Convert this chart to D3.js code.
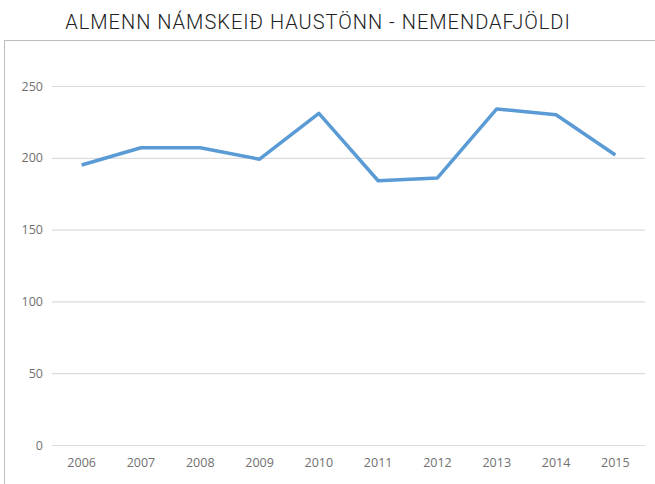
<!DOCTYPE html>
<html>
<head>
<meta charset="utf-8">
<script src="https://cdn.jsdelivr.net/npm/d3@7"></script>
<style>
  body { margin: 0; background: #fff; }
  svg { display: block; }
</style>
</head>
<body>
<div id="chart"></div>
<script>
const title = "ALMENN NÁMSKEIÐ HAUSTÖNN - NEMENDAFJÖLDI";
const years = ["2006", "2007", "2008", "2009", "2010", "2011", "2012", "2013", "2014", "2015"];
const students = [195, 207, 207, 199, 231, 184, 186, 234, 230, 202];
const yTicks = [0, 50, 100, 150, 200, 250];

const width = 655;
const height = 484;
const margin = {top: 86, right: 10, bottom: 39, left: 52};

const svg = d3.select("#chart")
    .append("svg")
    .attr("width", width)
    .attr("height", height);

// title
svg.append("text")
    .attr("x", 318)
    .attr("y", 29)
    .attr("text-anchor", "middle")
    .attr("font-family", "Roboto, 'Liberation Sans', sans-serif")
    .attr("font-weight", 300)
    .attr("font-size", 20)
    .attr("letter-spacing", 1)
    .attr("fill", "#222")
    .text(title);

// chart frame
svg.append("rect")
    .attr("x", 4.5)
    .attr("y", 40.5)
    .attr("width", 660)
    .attr("height", 460)
    .attr("fill", "none")
    .attr("stroke", "#bdbdbd")
    .attr("stroke-width", 1);

const x = d3.scaleBand()
    .domain(years)
    .range([margin.left, width - margin.right]);

const y = d3.scaleLinear()
    .domain([0, 250])
    .range([height - margin.bottom, margin.top]);

// gridlines + y labels
const yAxis = svg.append("g")
    .attr("transform", `translate(${margin.left},0)`)
    .call(d3.axisLeft(y).tickValues(yTicks).tickSize(-(width - margin.left - margin.right)).tickPadding(9));
yAxis.select(".domain").remove();
yAxis.selectAll(".tick line").attr("stroke", "#dcdcdc").attr("stroke-width", 1.2);
yAxis.selectAll(".tick text")
    .attr("font-family", "'Open Sans', sans-serif")
    .attr("font-size", 12.5)
    .attr("fill", "#707070");

// x labels
const xAxis = svg.append("g")
    .attr("transform", `translate(0,${height - margin.bottom})`)
    .call(d3.axisBottom(x).tickSize(0).tickPadding(13));
xAxis.select(".domain").remove();
xAxis.selectAll(".tick text")
    .attr("font-family", "'Open Sans', sans-serif")
    .attr("font-size", 12.5)
    .attr("fill", "#707070");

// line
const line = d3.line()
    .x((d, i) => x(years[i]) + x.bandwidth() / 2)
    .y(d => y(d));

svg.append("path")
    .datum(students)
    .attr("d", line)
    .attr("fill", "none")
    .attr("stroke", "#5b9bd5")
    .attr("stroke-width", 3.5)
    .attr("stroke-linejoin", "round");
</script>
</body>
</html>
